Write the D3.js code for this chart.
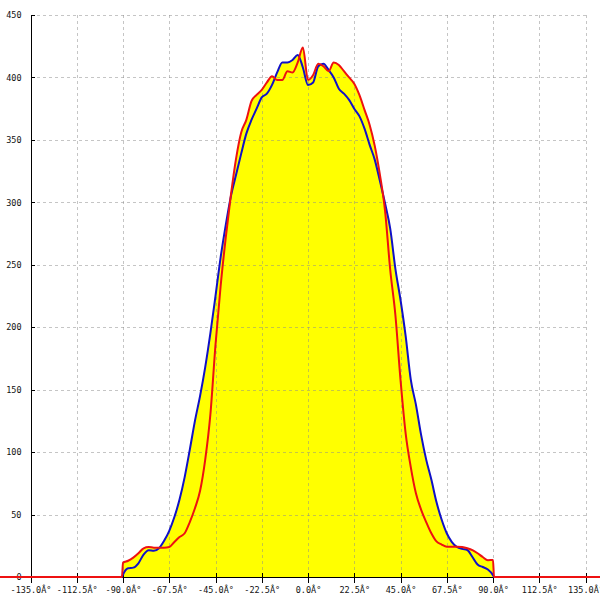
<!DOCTYPE html>
<html>
<head>
<meta charset="utf-8">
<script src="https://cdn.jsdelivr.net/npm/d3@7/dist/d3.min.js"></script>
<style>
html,body{margin:0;padding:0;background:#fff;}
svg{display:block;}
text{font-family:"DejaVu Sans Mono",monospace;font-size:8.5px;fill:#111;}
</style>
</head>
<body>
<svg id="chart" width="600" height="600"></svg>
<script>
const angles = [-150, -90.5, -90, -87.5, -85, -82.5, -80, -77.5, -75, -72.5, -70, -67.5, -65, -62.5, -60, -57.5, -55, -52.5, -50, -47.5, -45, -42.5, -40, -37.5, -35, -32.5, -30, -27.5, -25, -22.5, -20, -17.5, -15, -12.5, -10, -7.5, -5, -2.5, 0, 2.5, 5, 7.5, 10, 12.5, 15, 17.5, 20, 22.5, 25, 27.5, 30, 32.5, 35, 37.5, 40, 42.5, 45, 47.5, 50, 52.5, 55, 57.5, 60, 62.5, 65, 67.5, 70, 72.5, 75, 77.5, 80, 82.5, 85, 87.5, 90, 90.5, 150];

const blueValues = [0, 0, 2, 7, 7.5, 11, 18, 21.5, 21, 23, 29, 37, 48, 62, 80, 102, 125, 145, 168, 195, 225, 256, 282, 305, 322, 339, 355, 366, 375, 384, 387, 394, 404, 412, 412, 414, 418, 408, 394, 396, 409, 411, 406, 400, 391, 387, 382, 375, 369, 359, 346, 334, 317, 299, 279, 247, 222, 193, 158, 138, 114, 94, 78, 60, 46, 35, 28, 24, 22.5, 21.6, 16, 10, 8, 6, 1.5, 0, 0];

const redValues = [0, 0, 11.5, 13, 15.5, 19, 23, 24, 23.5, 23.5, 23.5, 24, 28, 32, 35, 44, 55, 69, 94, 130, 186, 233, 272, 306, 335, 356, 366, 381, 386, 390, 396, 401, 398, 398, 405, 404, 412, 424, 398, 402, 411, 409, 405, 412, 410, 405, 400, 395, 386, 374, 362, 345, 322, 293, 246, 210, 158, 115, 88, 67, 54, 44, 35, 28.5, 26, 24.3, 24.3, 24.3, 24, 23, 21.5, 19, 16, 13.5, 13.6, 0, 0];

const xTickValues = [-135, -112.5, -90, -67.5, -45, -22.5, 0, 22.5, 45, 67.5, 90, 112.5, 135];
const xTickLabels = ["-135.0Â°", "-112.5Â°", "-90.0Â°", "-67.5Â°", "-45.0Â°", "-22.5Â°", "0.0Â°", "22.5Â°", "45.0Â°", "67.5Â°", "90.0Â°", "112.5Â°", "135.0Â°"];
const yTickValues = [0, 50, 100, 150, 200, 250, 300, 350, 400, 450];
const yTickLabels = ["0", "50", "100", "150", "200", "250", "300", "350", "400", "450"];

const svg = d3.select("#chart");
const x = d3.scaleLinear().domain([-135, 135]).range([30.5, 585.5]);
const y = d3.scaleLinear().domain([0, 450]).range([577, 15]);

const blue = angles.map((a, i) => ({a: a, v: blueValues[i]}));
const red = angles.map((a, i) => ({a: a, v: redValues[i]}));

const curve = d3.curveMonotoneX;
const area = d3.area().curve(curve).x(d => x(d.a)).y0(y(0)).y1(d => y(d.v));
const line = d3.line().curve(curve).x(d => x(d.a)).y(d => y(d.v));

// fills
svg.append("path").datum(blue).attr("d", area).attr("fill", "#ffff00");
svg.append("path").datum(red).attr("d", area).attr("fill", "#ffff00");

// grid
const grid = svg.append("g").attr("stroke", "#8c8c8c").attr("stroke-opacity", 0.5)
  .attr("stroke-dasharray", "3,3").attr("fill", "none").attr("shape-rendering", "crispEdges");
grid.selectAll("line.v").data(xTickValues.slice(1)).enter().append("line")
  .attr("x1", d => Math.round(x(d)) + 0.5).attr("x2", d => Math.round(x(d)) + 0.5)
  .attr("y1", y(450)).attr("y2", y(0));
grid.selectAll("line.h").data(yTickValues.slice(1)).enter().append("line")
  .attr("y1", d => Math.round(y(d)) + 0.5).attr("y2", d => Math.round(y(d)) + 0.5)
  .attr("x1", x(-135)).attr("x2", x(135));

// axes
const xAxis = d3.axisBottom(x).tickValues(xTickValues)
  .tickFormat((d, i) => xTickLabels[i]).tickSize(6).tickPadding(4);
const gx = svg.append("g").attr("transform", `translate(0,${y(0)})`).call(xAxis);
gx.selectAll(".tick line").attr("y1", -4).attr("stroke", "#000");
gx.select(".domain").attr("stroke", "#000");
gx.selectAll("text").attr("font-size", null).attr("font-family", null).attr("fill", "#111");

const yAxis = d3.axisLeft(y).tickValues(yTickValues)
  .tickFormat((d, i) => yTickLabels[i]).tickSize(5).tickPadding(4);
const gy = svg.append("g").attr("transform", `translate(${x(-135)},0)`).call(yAxis);
gy.selectAll(".tick line").attr("x2", 4).attr("stroke", "#000");
gy.select(".domain").attr("stroke", "#000").attr("d", `M0.5,${y(450)}V${y(0)}`);
gy.selectAll("text").attr("font-size", null).attr("font-family", null).attr("fill", "#111");
d3.selectAll(".domain, .tick line").attr("shape-rendering", "crispEdges");

// lines
svg.append("path").datum(blue).attr("d", line).attr("fill", "none")
  .attr("stroke", "#1010c8").attr("stroke-width", 2).attr("stroke-linejoin", "round");
svg.append("path").datum(red).attr("d", line).attr("fill", "none")
  .attr("stroke", "#ee1111").attr("stroke-width", 2).attr("stroke-linejoin", "round");
</script>
</body>
</html>
